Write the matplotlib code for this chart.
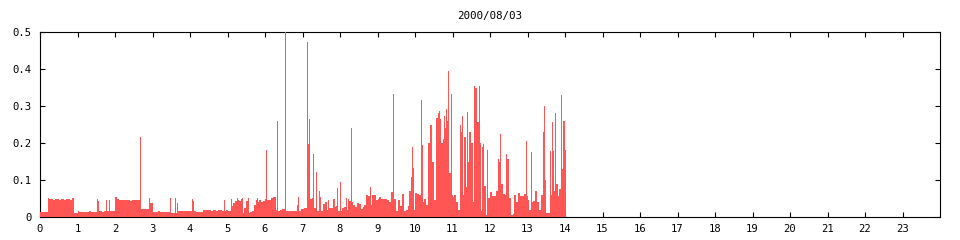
import numpy as np
import matplotlib
matplotlib.use("Agg")
import matplotlib.pyplot as plt

## load per 3-minute slot (0.05 h), one row per hour, 0h .. 14h
load = [
    0.014, 0.014, 0.014, 0.014, 0.052, 0.048, 0.048, 0.046, 0.048, 0.048, 0.046, 0.048, 0.048, 0.047, 0.048, 0.048, 0.046, 0.051, 0.012, 0.012,
    0.016, 0.013, 0.013, 0.013, 0.013, 0.013, 0.016, 0.013, 0.013, 0.013, 0.014, 0.016, 0.016, 0.014, 0.016, 0.016, 0.016, 0.016, 0.016, 0.016,
    0.054, 0.048, 0.046, 0.047, 0.047, 0.047, 0.047, 0.047, 0.044, 0.047, 0.047, 0.047, 0.047, 0.047, 0.021, 0.021, 0.021, 0.021, 0.039, 0.039,
    0.0135, 0.0135, 0.0135, 0.016, 0.0135, 0.0135, 0.0135, 0.0135, 0.0135, 0.0135, 0.01, 0.01, 0.012, 0.016, 0.016, 0.016, 0.016, 0.016, 0.016, 0.016,
    0.016, 0.016, 0.016, 0.014, 0.014, 0.014, 0.014, 0.018, 0.018, 0.018, 0.018, 0.016, 0.018, 0.018, 0.016, 0.018, 0.018, 0.016, 0.016, 0.018,
    0.016, 0.016, 0.03, 0.037, 0.044, 0.046, 0.044, 0.05, 0.01, 0.025, 0.042, 0.01, 0.014, 0.017, 0.032, 0.046, 0.04, 0.046, 0.04, 0.042,
    0.048, 0.046, 0.046, 0.052, 0.053, 0.053, 0.018, 0.017, 0.018, 0.021, 0.021, 0.016, 0.016, 0.016, 0.017, 0.016, 0.017, 0.02, 0.017, 0.022,
    0.022, 0.024, 0.024, 0.197, 0.05, 0.051, 0.025, 0.015, 0.015, 0.054, 0.017, 0.035, 0.04, 0.02, 0.024, 0.024, 0.02, 0.026, 0.03, 0.017,
    0.017, 0.025, 0.026, 0.02, 0.048, 0.042, 0.04, 0.033, 0.028, 0.038, 0.034, 0.022, 0.026, 0.033, 0.06, 0.056, 0.033, 0.06, 0.06, 0.046,
    0.05, 0.053, 0.05, 0.05, 0.05, 0.045, 0.04, 0.068, 0.045, 0.05, 0.016, 0.045, 0.029, 0.062, 0.017, 0.018, 0.03, 0.07, 0.078, 0.02,
    0.064, 0.062, 0.06, 0.195, 0.04, 0.05, 0.033, 0.2, 0.25, 0.15, 0.045, 0.268, 0.28, 0.265, 0.2, 0.21, 0.24, 0.26, 0.12, 0.06,
    0.054, 0.06, 0.04, 0.02, 0.23, 0.06, 0.215, 0.08, 0.15, 0.23, 0.2, 0.04, 0.348, 0.256, 0.2, 0.015, 0.197, 0.085, 0.006, 0.052,
    0.068, 0.058, 0.058, 0.07, 0.158, 0.15, 0.09, 0.062, 0.06, 0.158, 0.051, 0.006, 0.009, 0.06, 0.04, 0.064, 0.056, 0.058, 0.062, 0.056,
    0.045, 0.02, 0.041, 0.044, 0.07, 0.04, 0.02, 0.06, 0.229, 0.011, 0.011, 0.011, 0.06, 0.179, 0.071, 0.09, 0.058, 0.076, 0.13, 0.26,
]
slot = 0.05  # hours

## single short peaks (hour, value)
peak_h = [1.53, 1.555, 1.77, 1.85, 2.67, 2.91, 3.47, 3.61, 3.64, 4.04, 4.08, 4.91,
          5.09, 5.25, 5.39, 5.55, 5.79, 6.03, 6.32, 6.53, 6.86, 6.89,
          7.133, 7.16, 7.29, 7.373, 7.453, 7.69, 7.80, 7.853, 7.93, 7.987,
          8.17, 8.298, 8.80, 9.4, 9.88, 9.92, 9.95,
          10.17, 10.63, 10.76, 10.83, 10.87, 10.97,
          11.187, 11.26, 11.39, 11.58, 11.71, 11.79, 11.93,
          12.27, 12.43, 12.947, 13.08, 13.43, 13.46, 13.61, 13.66, 13.72, 13.88, 14.01]
peak_v = [0.048, 0.043, 0.046, 0.046, 0.215, 0.052, 0.052, 0.052, 0.037, 0.048, 0.043, 0.047,
          0.049, 0.052, 0.052, 0.052, 0.052, 0.182, 0.26, 0.5, 0.033, 0.054,
          0.473, 0.266, 0.17, 0.122, 0.07, 0.047, 0.05, 0.05, 0.078, 0.095,
          0.051, 0.24, 0.08, 0.332, 0.108, 0.19, 0.132,
          0.317, 0.286, 0.274, 0.292, 0.395, 0.332,
          0.25, 0.274, 0.283, 0.353, 0.353, 0.19, 0.18,
          0.223, 0.17, 0.205, 0.175, 0.3, 0.1, 0.179, 0.256, 0.28, 0.331, 0.18]

title = "2000/08/03"
x_ticks = list(range(0, 24))
y_ticks = [0, 0.1, 0.2, 0.3, 0.4, 0.5]
y_labels = ["0", "0.1", "0.2", "0.3", "0.4", "0.5"]

red = "#ff5555"
font = "DejaVu Sans Mono"

hours = np.arange(len(load)) * slot

fig = plt.figure(figsize=(9.6, 2.4), dpi=100)
ax = fig.add_axes([40 / 960, 23 / 240, 900 / 960, 185 / 240])

ax.bar(hours, load, width=slot, align="edge", color=red, linewidth=0,
       antialiased=False, zorder=3)
ax.vlines(peak_h, 0, peak_v, colors=red, linewidth=0.72, antialiased=False, zorder=3)

ax.set_xlim(0, 24)
ax.set_ylim(0, 0.5)
ax.set_xticks(x_ticks)
ax.set_xticklabels([str(t) for t in x_ticks], fontfamily=font, fontsize=7.6)
ax.set_yticks(y_ticks)
ax.set_yticklabels(y_labels, fontfamily=font, fontsize=7.6)
ax.tick_params(direction="in", length=3.6, width=0.8, top=True, right=True,
               color="black")
ax.tick_params(axis="x", pad=5)
ax.tick_params(axis="y", pad=6)

for s in ax.spines.values():
    s.set_linewidth(0.8)
    s.set_color("black")

ax.set_title(title, fontfamily=font, fontsize=7.8, pad=9)

fig.savefig("out.png", dpi=100)
